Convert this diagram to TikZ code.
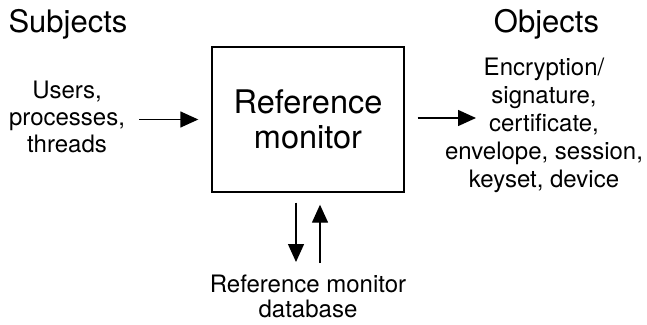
\documentclass[tikz,border=0pt]{standalone}
\usepackage{fontspec}
\setmainfont{TeX Gyre Heros}
\usetikzlibrary{arrows.meta,calc}
\begin{document}
\begin{tikzpicture}[x=1pt,y=1pt,
  arr/.style={line width=1.4pt,-{Triangle[length=18pt,width=16pt]}},
  head/.style={font=\fontsize{31}{35}\selectfont,inner sep=0pt,anchor=base},
  lbl/.style={font=\fontsize{24}{27}\selectfont,inner sep=0pt,align=center,anchor=base},
  rmbox/.style={draw,line width=1.4pt,minimum width=192pt,minimum height=145pt,align=center,font=\fontsize{32.5}{35}\selectfont,inner sep=0pt}]
\useasboundingbox (0,0) rectangle (647,-324);
\node[rmbox] (rm) at (308,-119.5) {Reference\\monitor};
\node[head] (subj) at (68,-32) {Subjects};
\node[head] (obj) at (546.5,-32) {Objects};
\node[lbl] (users) at (67,-152) {Users,\\processes,\\threads};
\node[lbl,font=\fontsize{24}{28}\selectfont] (objs) at (544,-187) {Encryption/\\signature,\\certificate,\\envelope, session,\\keyset, device};
\node[lbl,font=\fontsize{24}{25}\selectfont] (db) at (308,-317) {Reference monitor\\database};
\coordinate (objin) at (476,-118);
\coordinate (dbtop) at (308,-262);
\draw[arr,shorten <=14pt,shorten >=13pt] (users.east |- rm.west) -- (rm.west);
\draw[arr,shorten <=13pt] (rm.east |- objin) -- (objin);
\draw[arr,shorten <=10pt] ([xshift=-12pt]rm.south) -- ([xshift=-12pt]rm.south |- dbtop);
\draw[arr] ([xshift=12pt,yshift=-1pt]rm.south |- dbtop) -- ([xshift=12pt,yshift=-12pt]rm.south);
\end{tikzpicture}
\end{document}
